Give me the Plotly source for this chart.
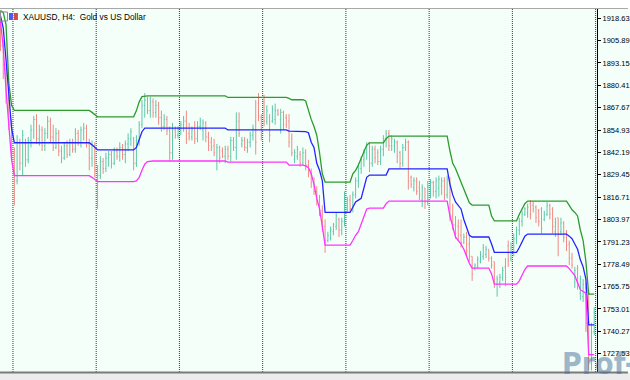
import plotly.graph_objects as go

# ---------------- data (XAUUSD H4) ----------------
opens = [
 1920, 1903, 1887, 1873, 1858, 1842, 1826, 1848, 1836, 1847,
 1838, 1849, 1855, 1861, 1850, 1855, 1846, 1853, 1860, 1851,
 1845, 1853, 1843, 1839, 1846, 1841, 1848, 1844, 1853, 1848,
 1855, 1856, 1847, 1839, 1846, 1832, 1829, 1837, 1833, 1839,
 1841, 1836, 1843, 1840, 1845, 1841, 1847, 1850, 1850, 1836,
 1849, 1858, 1869, 1872, 1866, 1871, 1865, 1869, 1862, 1857,
 1861, 1855, 1842, 1855, 1852, 1855, 1858, 1860, 1853, 1851,
 1855, 1850, 1857, 1855, 1859, 1851, 1848, 1846, 1837, 1845,
 1843, 1840, 1844, 1840, 1849, 1845, 1860, 1847, 1849, 1845,
 1848, 1852, 1860, 1870, 1862, 1871, 1860, 1862, 1860, 1861,
 1866, 1861, 1865, 1862, 1860, 1850, 1838, 1840, 1841, 1836,
 1842, 1835, 1830, 1825, 1820, 1815, 1809, 1800, 1792, 1793,
 1797, 1800, 1804, 1798, 1803, 1810, 1815, 1810, 1818, 1826,
 1833, 1838, 1842, 1848, 1836, 1844, 1842, 1837, 1844, 1850,
 1853, 1846, 1846, 1848, 1842, 1836, 1845, 1848, 1828, 1822,
 1826, 1822, 1815, 1822, 1814, 1820, 1825, 1820, 1822, 1823,
 1826, 1818, 1827, 1806, 1801, 1800, 1795, 1791, 1794, 1790,
 1783, 1776, 1777, 1780, 1783, 1784, 1787, 1782, 1780, 1767,
 1768, 1771, 1777, 1789, 1782, 1788, 1793, 1798, 1803, 1807,
 1808, 1813, 1812, 1811, 1809, 1810, 1804, 1807, 1812, 1810,
 1797, 1805, 1797, 1802, 1796, 1790, 1782, 1768, 1776, 1762,
 1760, 1765, 1745, 1722, 1740,
]
highs = [
 1923, 1906, 1890, 1876, 1861, 1845, 1852, 1850, 1855, 1850,
 1851, 1858, 1863, 1864, 1858, 1857, 1856, 1863, 1862, 1858,
 1856, 1855, 1846, 1848, 1849, 1850, 1850, 1856, 1855, 1857,
 1859, 1858, 1850, 1849, 1848, 1835, 1840, 1839, 1842, 1843,
 1843, 1845, 1845, 1848, 1847, 1849, 1853, 1856, 1851, 1852,
 1860, 1872, 1876, 1874, 1874, 1873, 1872, 1871, 1866, 1864,
 1863, 1857, 1859, 1857, 1857, 1860, 1863, 1866, 1859, 1857,
 1860, 1860, 1862, 1861, 1860, 1854, 1851, 1850, 1847, 1846,
 1845, 1846, 1846, 1851, 1851, 1865, 1865, 1851, 1851, 1850,
 1854, 1858, 1872, 1876, 1864, 1875, 1869, 1864, 1869, 1870,
 1867, 1867, 1866, 1864, 1864, 1853, 1844, 1846, 1843, 1845,
 1844, 1838, 1833, 1828, 1823, 1818, 1812, 1804, 1797, 1800,
 1802, 1808, 1805, 1805, 1820, 1817, 1818, 1820, 1828, 1836,
 1840, 1844, 1848, 1848, 1846, 1846, 1844, 1846, 1852, 1855,
 1855, 1852, 1850, 1849, 1843, 1847, 1850, 1849, 1829, 1828,
 1828, 1826, 1824, 1822, 1826, 1827, 1826, 1828, 1829, 1828,
 1828, 1829, 1828, 1813, 1806, 1804, 1804, 1796, 1797, 1795,
 1783, 1779, 1783, 1786, 1790, 1789, 1787, 1783, 1780, 1772,
 1773, 1777, 1782, 1792, 1791, 1796, 1800, 1805, 1809, 1811,
 1813, 1815, 1814, 1812, 1810, 1811, 1809, 1814, 1813, 1811,
 1805, 1805, 1805, 1803, 1798, 1792, 1785, 1777, 1778, 1772,
 1770, 1768, 1764, 1745, 1754,
]
lows = [
 1900, 1884, 1870, 1855, 1838, 1812, 1824, 1832, 1829, 1834,
 1836, 1845, 1850, 1847, 1846, 1843, 1843, 1850, 1848, 1843,
 1844, 1840, 1836, 1838, 1839, 1840, 1842, 1842, 1846, 1845,
 1849, 1845, 1832, 1834, 1828, 1810, 1827, 1830, 1831, 1834,
 1833, 1835, 1838, 1837, 1838, 1836, 1843, 1846, 1832, 1834,
 1846, 1856, 1862, 1864, 1862, 1862, 1862, 1858, 1854, 1855,
 1852, 1837, 1838, 1850, 1850, 1852, 1854, 1847, 1849, 1849,
 1847, 1848, 1855, 1849, 1848, 1843, 1843, 1840, 1832, 1836,
 1839, 1836, 1838, 1837, 1843, 1838, 1851, 1845, 1843, 1842,
 1845, 1849, 1841, 1860, 1849, 1857, 1858, 1848, 1859, 1858,
 1863, 1853, 1855, 1856, 1845, 1840, 1836, 1838, 1834, 1835,
 1832, 1828, 1822, 1818, 1812, 1806, 1797, 1785, 1791, 1792,
 1795, 1798, 1794, 1795, 1800, 1808, 1808, 1808, 1816, 1822,
 1830, 1834, 1838, 1831, 1834, 1836, 1835, 1835, 1840, 1845,
 1843, 1843, 1842, 1836, 1833, 1834, 1843, 1821, 1822, 1820,
 1818, 1815, 1811, 1810, 1812, 1816, 1817, 1816, 1817, 1818,
 1815, 1816, 1803, 1798, 1793, 1792, 1788, 1790, 1783, 1780,
 1769, 1775, 1776, 1779, 1781, 1782, 1780, 1776, 1765, 1760,
 1765, 1769, 1766, 1777, 1780, 1783, 1790, 1795, 1800, 1806,
 1805, 1804, 1808, 1802, 1800, 1796, 1803, 1806, 1804, 1796,
 1794, 1783, 1795, 1791, 1786, 1778, 1776, 1765, 1764, 1758,
 1757, 1740, 1718, 1718, 1738,
]
closes = [
 1903, 1887, 1873, 1858, 1842, 1826, 1848, 1836, 1852, 1838,
 1849, 1855, 1861, 1850, 1855, 1846, 1853, 1860, 1851, 1845,
 1853, 1843, 1839, 1846, 1841, 1848, 1844, 1853, 1848, 1855,
 1856, 1847, 1839, 1846, 1832, 1829, 1837, 1833, 1839, 1841,
 1836, 1843, 1840, 1845, 1841, 1847, 1850, 1854, 1836, 1849,
 1858, 1869, 1872, 1866, 1871, 1865, 1869, 1862, 1857, 1861,
 1855, 1842, 1855, 1852, 1855, 1858, 1860, 1850, 1851, 1855,
 1850, 1857, 1860, 1859, 1851, 1846, 1845, 1842, 1845, 1839,
 1840, 1844, 1840, 1849, 1845, 1860, 1853, 1849, 1845, 1848,
 1852, 1856, 1848, 1863, 1852, 1860, 1866, 1852, 1867, 1866,
 1864, 1865, 1858, 1858, 1848, 1842, 1842, 1844, 1836, 1842,
 1835, 1830, 1825, 1820, 1815, 1809, 1800, 1792, 1795, 1798,
 1801, 1806, 1798, 1803, 1816, 1815, 1810, 1818, 1826, 1833,
 1838, 1842, 1846, 1836, 1844, 1839, 1837, 1844, 1850, 1853,
 1846, 1850, 1848, 1840, 1836, 1845, 1848, 1826, 1824, 1826,
 1820, 1818, 1822, 1814, 1823, 1825, 1820, 1826, 1827, 1826,
 1818, 1827, 1806, 1801, 1796, 1795, 1791, 1794, 1786, 1783,
 1773, 1778, 1781, 1784, 1788, 1787, 1782, 1778, 1770, 1770,
 1771, 1775, 1771, 1781, 1788, 1793, 1798, 1803, 1807, 1810,
 1811, 1807, 1810, 1805, 1803, 1799, 1807, 1812, 1807, 1800,
 1802, 1795, 1802, 1794, 1789, 1782, 1778, 1775, 1768, 1770,
 1767, 1745, 1725, 1740, 1751,
]

upper_band = [
 1923, 1922, 1915, 1882, 1869,
 1866.1, 1866.1, 1866.1, 1866.1, 1866.1, 1866.1, 1866.1, 1866.1, 1866.1, 1866.1,
 1866.1, 1866.1, 1866.1, 1866.1, 1866.1, 1866.1, 1866.1, 1866.1, 1866.1, 1866.1,
 1866.1, 1866.1, 1866.1, 1866.1, 1866.1, 1866.1, 1866.1, 1866.1,
 1865, 1863.5,
 1862.5, 1862.5, 1862.5, 1862.5, 1862.5, 1862.5, 1862.5, 1862.5, 1862.5, 1862.5,
 1862.5, 1862.5, 1862.5, 1862.5,
 1866, 1871, 1874,
 1874.4, 1874.4, 1874.4, 1874.4, 1874.4, 1874.4, 1874.4, 1874.4, 1874.4, 1874.4,
 1874.4, 1874.4, 1874.4, 1874.4, 1874.4, 1874.4, 1874.4, 1874.4, 1874.4, 1874.4,
 1874.4, 1874.4, 1874.4, 1874.4, 1874.4, 1874.4, 1874.4, 1874.4, 1874.4, 1874.4,
 1873.5, 1873.5, 1873.5, 1873.5, 1873.5, 1873.5, 1873.5, 1873.5, 1873.5, 1873.5,
 1873.5, 1873.5, 1873.5, 1873.5, 1873.5, 1873.5, 1873.5, 1873.5, 1873.5, 1873.5,
 1873.5, 1873.5,
 1873,
 1872.2, 1872.2, 1872.2, 1872.2, 1872.2,
 1871.5, 1866, 1861, 1857, 1852, 1842, 1830,
 1825.3, 1825.3, 1825.3, 1825.3, 1825.3, 1825.3, 1825.3, 1825.3, 1825.3, 1825.3,
 1830, 1832, 1835, 1839, 1843, 1846.4,
 1847.6, 1847.6, 1847.6, 1847.6, 1847.6, 1847.6,
 1850,
 1851.5, 1851.5, 1851.5, 1851.5, 1851.5, 1851.5, 1851.5, 1851.5, 1851.5, 1851.5,
 1851.5, 1851.5, 1851.5, 1851.5, 1851.5, 1851.5, 1851.5, 1851.5, 1851.5, 1851.5,
 1851.5, 1851.5,
 1843, 1836, 1833, 1829, 1826, 1822, 1817, 1813.5,
 1812.2, 1812.2, 1812.2, 1812.2, 1812.2, 1812.2, 1812.2,
 1806,
 1803.2, 1803.2, 1803.2, 1803.2, 1803.2, 1803.2, 1803.2, 1803.2, 1803.2,
 1807, 1810, 1813,
 1814.5, 1814.5, 1814.5, 1814.5, 1814.5, 1814.5, 1814.5, 1814.5, 1814.5, 1814.5,
 1814.5, 1814.5, 1814.5, 1814.5, 1814.5,
 1812, 1809.5, 1808, 1806, 1798, 1792, 1780,
 1761.5, 1761.5, 1761.5,
]
middle_band = [
 1920, 1913, 1895, 1875, 1856,
 1847.7, 1847.7, 1847.7, 1847.7, 1847.7, 1847.7, 1847.7, 1847.7, 1847.7, 1847.7,
 1847.7, 1847.7, 1847.7, 1847.7, 1847.7, 1847.7, 1847.7, 1847.7, 1847.7, 1847.7,
 1847.7, 1847.7, 1847.7, 1847.7, 1847.7, 1847.7, 1847.7, 1847.7,
 1846.5, 1845,
 1843.6, 1843.6, 1843.6, 1843.6, 1843.6, 1843.6, 1843.6, 1843.6, 1843.6, 1843.6,
 1843.6, 1843.6, 1843.6, 1843.6,
 1845, 1850, 1854,
 1856, 1856, 1856, 1856, 1856, 1856, 1856, 1856, 1856, 1856,
 1856, 1856, 1856, 1856, 1856, 1856, 1856, 1856, 1856, 1856,
 1856, 1856, 1856, 1856, 1856, 1856, 1856, 1856, 1856, 1856,
 1855, 1855, 1855, 1855, 1855, 1855, 1855, 1855, 1855, 1855,
 1855, 1855, 1855, 1855, 1855, 1855, 1855, 1855, 1855, 1855,
 1855, 1855,
 1854.3, 1854.3, 1854.3, 1854.3, 1854.3, 1854.3,
 1854, 1853.4, 1848, 1845, 1836, 1832, 1826,
 1808, 1808, 1808, 1808, 1808, 1808, 1808, 1808, 1808, 1808,
 1811, 1814, 1815, 1816, 1822, 1828,
 1829.3, 1829.3, 1829.3, 1829.3, 1829.3, 1829.3, 1829.3,
 1832.8, 1832.8, 1832.8, 1832.8, 1832.8, 1832.8, 1832.8, 1832.8, 1832.8, 1832.8,
 1832.8, 1832.8, 1832.8, 1832.8, 1832.8, 1832.8, 1832.8, 1832.8, 1832.8, 1832.8,
 1832.8, 1832.8,
 1824, 1818, 1814, 1812, 1810, 1804, 1799, 1795,
 1794, 1794, 1794, 1794, 1794, 1794, 1794,
 1790,
 1785.3, 1785.3, 1785.3, 1785.3, 1785.3, 1785.3, 1785.3, 1785.3, 1785.3,
 1788, 1791, 1794.5,
 1795.7, 1795.7, 1795.7, 1795.7, 1795.7, 1795.7, 1795.7, 1795.7, 1795.7, 1795.7,
 1795.7, 1795.7, 1795.7, 1795.7, 1795.7,
 1794.5, 1793, 1790, 1787, 1781, 1777, 1770,
 1744, 1744, 1744,
]
lower_band = [
 1917, 1902, 1878, 1860, 1838,
 1829, 1829, 1829, 1829, 1829, 1829, 1829, 1829, 1829, 1829,
 1829, 1829, 1829, 1829, 1829, 1829, 1829, 1829, 1829, 1829,
 1829, 1829, 1829, 1829, 1829, 1829, 1829, 1829,
 1828, 1826.5,
 1825.5, 1825.5, 1825.5, 1825.5, 1825.5, 1825.5, 1825.5, 1825.5, 1825.5, 1825.5,
 1825.5, 1825.5, 1825.5, 1825.5,
 1826, 1828, 1832, 1835.5, 1837,
 1837.3, 1837.3, 1837.3, 1837.3, 1837.3, 1837.3, 1837.3, 1837.3, 1837.3, 1837.3,
 1837.3, 1837.3, 1837.3, 1837.3, 1837.3, 1837.3, 1837.3, 1837.3, 1837.3, 1837.3,
 1837.3, 1837.3, 1837.3, 1837.3, 1837.3, 1837.3, 1837.3, 1837.3,
 1836.7, 1836.7, 1836.7, 1836.7, 1836.7, 1836.7, 1836.7, 1836.7, 1836.7, 1836.7,
 1836.7, 1836.7, 1836.7, 1836.7, 1836.7, 1836.7, 1836.7, 1836.7, 1836.7, 1836.7,
 1836.7, 1836.7,
 1835, 1835, 1835, 1835, 1835, 1835,
 1834.5, 1833.5, 1830, 1824, 1816, 1810, 1800,
 1789.4, 1789.4, 1789.4, 1789.4, 1789.4, 1789.4, 1789.4, 1789.4, 1789.4, 1789.4,
 1792, 1795, 1797, 1801, 1806, 1810,
 1810.5, 1810.5, 1810.5, 1810.5, 1810.5, 1810.5,
 1813,
 1814.5, 1814.5, 1814.5, 1814.5, 1814.5, 1814.5, 1814.5, 1814.5, 1814.5, 1814.5,
 1814.5, 1814.5, 1814.5, 1814.5, 1814.5, 1814.5, 1814.5, 1814.5, 1814.5, 1814.5,
 1814.5, 1814.5,
 1806, 1800, 1794, 1792, 1790, 1787, 1783, 1779,
 1776.3, 1776.3, 1776.3, 1776.3, 1776.3, 1776.3, 1776.3,
 1773,
 1767.2, 1767.2, 1767.2, 1767.2, 1767.2, 1767.2, 1767.2, 1767.2, 1767.2,
 1769, 1772, 1775.5,
 1777.5, 1777.5, 1777.5, 1777.5, 1777.5, 1777.5, 1777.5, 1777.5, 1777.5, 1777.5,
 1777.5, 1777.5, 1777.5, 1777.5, 1777.5,
 1776, 1774, 1772, 1768, 1764, 1763, 1762,
 1727, 1727, 1727,
]

price_ticks = [1918.63, 1905.89, 1893.15, 1880.41, 1867.67, 1854.93, 1842.19, 1829.45,
               1816.71, 1803.97, 1791.23, 1778.49, 1765.75, 1753.01, 1740.27, 1727.53]
week_start_bars = [5, 35, 65, 95, 125, 155, 185, 215]
chart_title = "XAUUSD, H4:&nbsp;&nbsp;Gold vs US Dollar"
watermark = "Prof-FX"

# ---------------- figure ----------------
n = len(closes)
idx = list(range(n))

fig = go.Figure()
fig.add_trace(go.Ohlc(
    x=idx, open=opens, high=highs, low=lows, close=closes,
    increasing=dict(line=dict(color="#5CC7A8", width=1)),
    decreasing=dict(line=dict(color="#F08A84", width=1)),
    tickwidth=0.3, hoverinfo="skip", showlegend=False,
))
for vals, col in [(upper_band, "#2E9B2E"), (middle_band, "#2424FF"), (lower_band, "#FF33FF")]:
    fig.add_trace(go.Scatter(x=idx[:len(vals)], y=vals, mode="lines",
                             line=dict(color=col, width=1.3), hoverinfo="skip",
                             showlegend=False))

W, H = 630, 380
ML, MR, MT, MB = 0, 31, 9, 8
PW, PH = W - ML - MR, H - MT - MB

def px_x(p):
    return (p - ML) / PW

def px_y(p):
    return (H - MB - p) / PH

shapes = []
for b in week_start_bars:
    shapes.append(dict(type="line", xref="x", yref="paper", x0=b - 0.5, x1=b - 0.5,
                       y0=0, y1=1, line=dict(color="#3A3A3A", width=1, dash="1px,1px"),
                       layer="below"))
# window frame strips
shapes.append(dict(type="rect", xref="paper", yref="paper", x0=px_x(-2), x1=px_x(W + 2),
                   y0=px_y(8.5), y1=px_y(-2), fillcolor="#FFFFFF", line=dict(width=0)))
shapes.append(dict(type="line", xref="paper", yref="paper", x0=px_x(0), x1=px_x(W),
                   y0=px_y(8.5), y1=px_y(8.5), line=dict(color="#A8A8A8", width=1)))
shapes.append(dict(type="rect", xref="paper", yref="paper", x0=px_x(-2), x1=px_x(W + 2),
                   y0=px_y(382), y1=px_y(373), fillcolor="#ECECEC", line=dict(width=0)))
shapes.append(dict(type="line", xref="paper", yref="paper", x0=px_x(0), x1=px_x(W),
                   y0=px_y(372.5), y1=px_y(372.5), line=dict(color="#7A7A7A", width=2)))
# small chart icon near the title
shapes.append(dict(type="rect", xref="paper", yref="paper", x0=px_x(0.5), x1=px_x(7.5),
                   y0=px_y(21), y1=px_y(12), fillcolor="rgba(0,0,0,0)",
                   line=dict(color="#8C8C9C", width=1)))
shapes.append(dict(type="rect", xref="paper", yref="paper", x0=px_x(9), x1=px_x(13),
                   y0=px_y(20), y1=px_y(13), fillcolor="#4A5CF0", line=dict(width=0)))
shapes.append(dict(type="rect", xref="paper", yref="paper", x0=px_x(14), x1=px_x(18),
                   y0=px_y(20), y1=px_y(13), fillcolor="#D84848", line=dict(width=0)))

fig.update_layout(
    width=W, height=H,
    margin=dict(l=ML, r=MR, t=MT, b=MB, pad=0),
    paper_bgcolor="#F5FFFA", plot_bgcolor="#F5FFFA",
    shapes=shapes,
    showlegend=False,
    xaxis=dict(range=[-0.17, 215.0], showticklabels=False, showgrid=False,
               zeroline=False, showline=False, ticks="", fixedrange=True,
               rangeslider=dict(visible=False)),
    yaxis=dict(range=[1717.1, 1923.9], side="right", showgrid=False, zeroline=False,
               showline=True, linecolor="#000000", linewidth=1,
               tickmode="array", tickvals=price_ticks,
               ticktext=[f"{v:.2f}" for v in price_ticks],
               ticks="outside", ticklen=3, tickcolor="#000000",
               tickfont=dict(family="Liberation Sans", size=7.5, color="#000000")),
    annotations=[
        dict(text=chart_title, xref="paper", yref="paper", x=px_x(21), y=px_y(17),
             xanchor="left", yanchor="middle", showarrow=False,
             font=dict(family="Liberation Sans", size=8.3, color="#000000")),
        dict(text="<b>" + watermark + "</b>", xref="paper", yref="paper",
             x=px_x(562), y=px_y(383), xanchor="left", yanchor="bottom", showarrow=False,
             font=dict(family="DejaVu Sans Condensed, Liberation Sans", size=30,
                       color="rgba(70,110,150,0.5)")),
    ],
)

fig.write_html("out.html")
